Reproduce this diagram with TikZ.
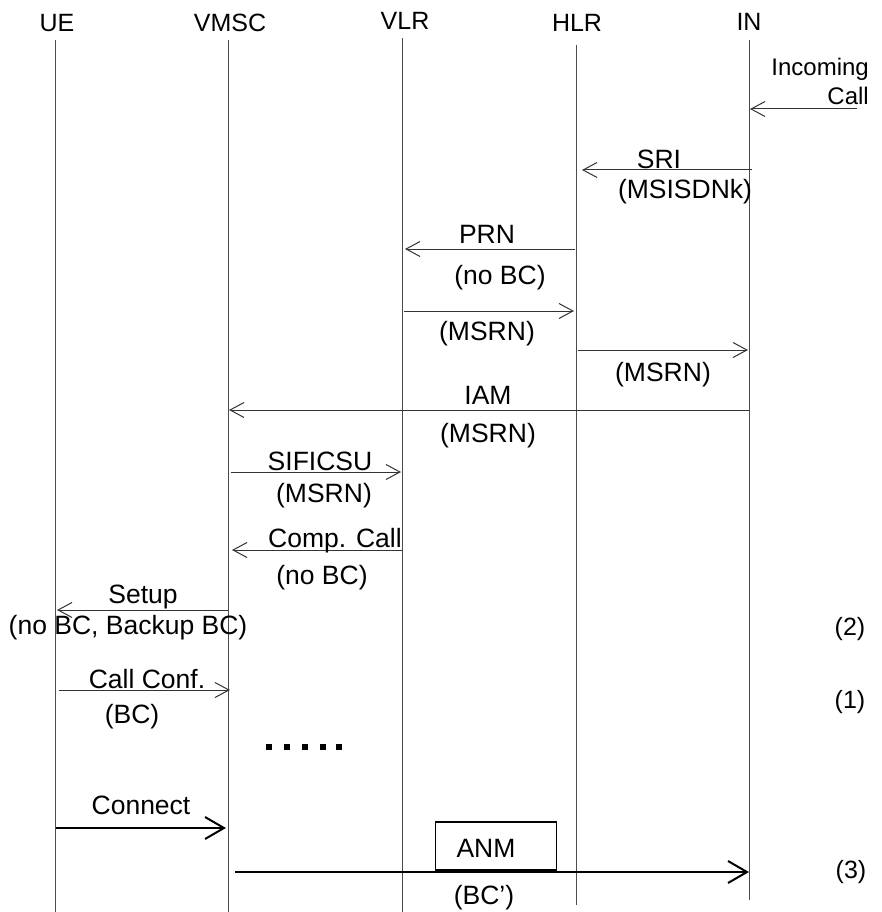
\documentclass[tikz,border=0pt]{standalone}
\usepackage{fontspec}
\setmainfont{Liberation Sans}
\usetikzlibrary{arrows.meta}
\tikzset{
    % Text of all nodes
    every node/.style={font=\fontsize{26.5pt}{29pt}\selectfont, inner sep=0pt, anchor=base},
    % Entity and side notes
    entity/.style={font=\fontsize{25pt}{29pt}\selectfont},
    % Lifeline style
    lifeline/.style={
        draw=black!70,
        line width=1pt
    },
    % Message arrow style
    msg/.style={
        -{Straight Barb[length=14pt,width=15pt]},
        line width=1pt,
        color=black!80
    },
    % Bold message arrow style
    boldmsg/.style={
        -{Straight Barb[length=19pt,width=22pt]},
        line width=2pt,
        color=black
    },
    % Message box style
    msgbox/.style={
        rectangle,
        draw=black,
        line width=1.2pt,
        minimum width=121pt,
        minimum height=48pt,
        anchor=center
    }
}
\begin{document}
\begin{tikzpicture}[x=1pt, y=-1pt]
                \useasboundingbox (0,0) rectangle (881,912);

                % Entities
                \node (ue) [entity] at (57,32) {UE};
                \node (vmsc) [entity] at (230,32) {VMSC};
                \node (vlr) [entity] at (405,30) {VLR};
                \node (hlr) [entity] at (577,32) {HLR};
                \node (in) [entity] at (749,31) {IN};

                \coordinate (ue-top) at (55,40);   \coordinate (ue-bot) at (55,912);
                \coordinate (vmsc-top) at (228,40); \coordinate (vmsc-bot) at (228,912);
                \coordinate (vlr-top) at (402,38);  \coordinate (vlr-bot) at (402,912);
                \coordinate (hlr-top) at (576,45);  \coordinate (hlr-bot) at (576,905);
                \coordinate (in-top) at (749,40);   \coordinate (in-bot) at (749,900);

                \draw [lifeline] (ue-top) -- (ue-bot);
                \draw [lifeline] (vmsc-top) -- (vmsc-bot);
                \draw [lifeline] (vlr-top) -- (vlr-bot);
                \draw [lifeline] (hlr-top) -- (hlr-bot);
                \draw [lifeline] (in-top) -- (in-bot);

                % Message end points
                \coordinate (call-a) at (857,109); \coordinate (call-b) at (750,109);
                \coordinate (sri-a) at (752,170);  \coordinate (sri-b) at (582,170);
                \coordinate (prn-a) at (575,249);  \coordinate (prn-b) at (405,249);
                \coordinate (prnack-a) at (404,311); \coordinate (prnack-b) at (574,311);
                \coordinate (sriack-a) at (578,350); \coordinate (sriack-b) at (748,350);
                \coordinate (iam-a) at (749,410);  \coordinate (iam-b) at (229,410);
                \coordinate (sif-a) at (231,472);  \coordinate (sif-b) at (401,472);
                \coordinate (comp-a) at (403,550); \coordinate (comp-b) at (232,550);
                \coordinate (setup-a) at (228,610); \coordinate (setup-b) at (57,610);
                \coordinate (conf-a) at (59,690);  \coordinate (conf-b) at (230,690);
                \coordinate (conn-a) at (56,828);  \coordinate (conn-b) at (226,828);
                \coordinate (anm-a) at (235,872);  \coordinate (anm-b) at (749,872);

                \draw [msg] (call-a) -- (call-b);
                \draw [msg] (sri-a) -- (sri-b);
                \draw [msg] (prn-a) -- (prn-b);
                \draw [msg] (prnack-a) -- (prnack-b);
                \draw [msg] (sriack-a) -- (sriack-b);
                \draw [msg] (iam-a) -- (iam-b);
                \draw [msg] (sif-a) -- (sif-b);
                \draw [msg] (comp-a) -- (comp-b);
                \draw [msg] (setup-a) -- (setup-b);
                \draw [msg] (conf-a) -- (conf-b);
                \draw [boldmsg] (conn-a) -- (conn-b);

                % ANM box sits on the bold arrow
                \node (anmbox) [msgbox] at (496,846) {};
                \draw [boldmsg] (anm-a) -- (anm-b);

                % Labels
                \node (incoming) [entity, font=\fontsize{24pt}{29pt}\selectfont, anchor=north east, align=right] at (869,58) {Incoming\\Call};
                \node (sri) at (659,168) {SRI};
                \node (msisdn) at (685,198) {(MSISDNk)};
                \node (prn) at (487,243) {PRN};
                \node (prnbc) at (500,284) {(no BC)};
                \node (msrn1) at (487,340) {(MSRN)};
                \node (msrn2) at (663,381) {(MSRN)};
                \node (iam) at (488,404) {IAM};
                \node (msrn3) at (488,442) {(MSRN)};
                \node (sific) at (320,470) {SIFICSU};
                \node (msrn4) at (324,502) {(MSRN)};
                \node (comp) at (335,547) {Comp. Call};
                \node (compbc) at (322,584) {(no BC)};
                \node (setup) at (143,603) {Setup};
                \node (setupbc) at (128,634) {(no BC, Backup BC)};
                \node (conf) at (147,688) {Call Conf.};
                \node (confbc) at (132,723) {(BC)};
                \node (connect) at (141,814) {Connect};
                \node (anm) at (486,857) {ANM};
                \node (anmbc) at (484,904) {(BC')};

                % Step numbers
                \node (step2) [entity] at (850,635) {(2)};
                \node (step1) [entity] at (850,708) {(1)};
                \node (step3) [entity] at (851,878) {(3)};

                % Dots
                \foreach \x in {269,287,305,323,339}
                    \fill (\x-2.8,744.2) rectangle ++(5.8,5.8);
            \end{tikzpicture}
\end{document}
